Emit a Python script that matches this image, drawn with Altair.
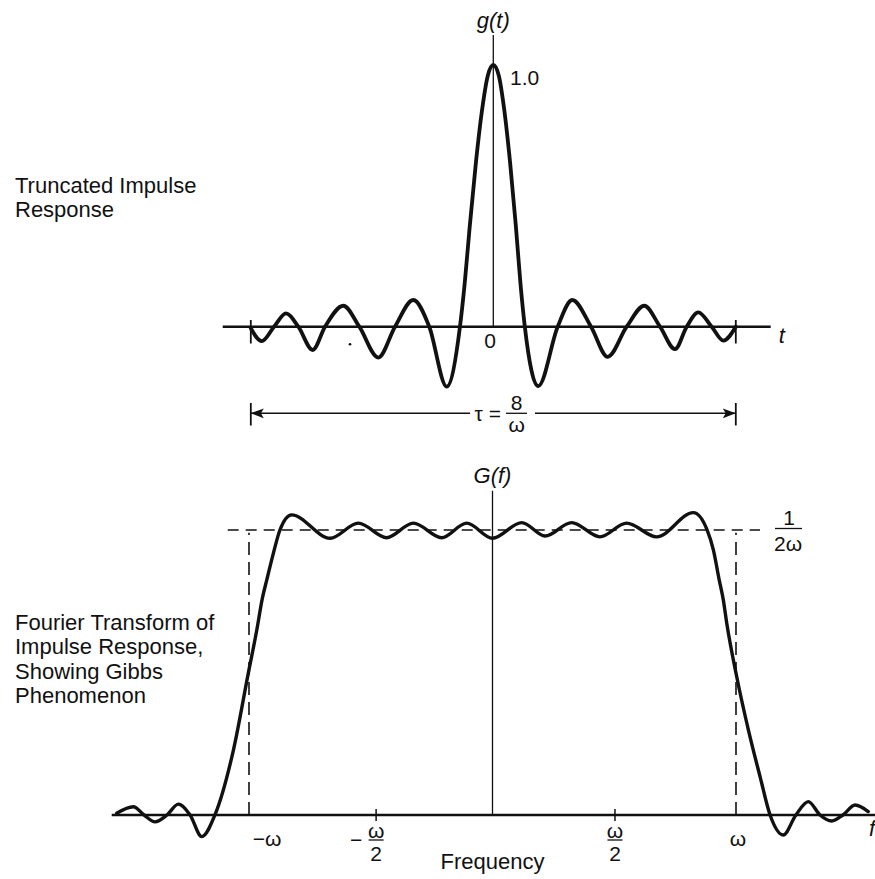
import altair as alt
import pandas as pd

# ---------------- data ----------------
# Truncated impulse response g(t); t in units of 1/omega (tau = 8/omega -> t in [-4, 4])
t_vals = [-4.0, -3.82, -3.617, -3.419, -3.216, -2.979, -2.776, -2.474, -2.21, -1.897,
          -1.621, -1.32, -1.056, -0.769, -0.55, -0.47, -0.39, -0.29, -0.19, -0.09,
          0.0, 0.09, 0.18, 0.28, 0.37, 0.45, 0.52, 0.742, 1.062, 1.303,
          1.612, 1.887, 2.2, 2.491, 2.75, 2.997, 3.19, 3.381, 3.602, 3.794, 4.0]
g_vals = [-0.006, -0.055, 0.0, 0.051, 0.0, -0.089, 0.0, 0.080, 0.0, -0.118,
          0.0, 0.102, 0.0, -0.229, 0.0, 0.17, 0.38, 0.62, 0.82, 0.96,
          1.0, 0.96, 0.83, 0.62, 0.39, 0.16, 0.0, -0.227, 0.0, 0.102,
          0.0, -0.115, 0.0, 0.080, 0.0, -0.086, 0.0, 0.055, 0.0, -0.053, 0.0]

# Fourier transform G(f); f in units of omega, G in units of 1/(2 omega)
f_vals = [-1.543, -1.475, -1.431, -1.386, -1.337, -1.290, -1.242, -1.194, -1.140, -1.064,
          -1.003, -0.968, -0.945, -0.927, -0.900, -0.873, -0.825, -0.667, -0.551, -0.435,
          -0.325, -0.209, -0.106, 0.0, 0.120, 0.216, 0.325, 0.441, 0.551, 0.674,
          0.825, 0.880, 0.907, 0.931, 0.948, 0.962, 1.003, 1.051, 1.099, 1.140,
          1.194, 1.246, 1.297, 1.345, 1.393, 1.439, 1.489, 1.543]
G_vals = [0.006, 0.029, 0.0, -0.024, 0.0, 0.038, 0.0, -0.076, 0.0, 0.228,
          0.497, 0.649, 0.761, 0.825, 0.918, 1.0, 1.053, 0.971, 1.024, 0.973,
          1.024, 0.973, 1.024, 0.971, 1.026, 0.979, 1.026, 0.976, 1.024, 0.976,
          1.061, 1.003, 0.930, 0.825, 0.754, 0.673, 0.485, 0.298, 0.134, 0.0,
          -0.070, 0.0, 0.047, 0.0, -0.021, 0.0, 0.035, 0.012]

freq_tick_pos = [-0.478, 0.503]
top_label = ["Truncated Impulse", "Response"]
bottom_label = ["Fourier Transform of", "Impulse Response,", "Showing Gibbs", "Phenomenon"]

# ---------------- layout (pixels) ----------------
W, H = 875, 879
INK = "#111111"
FONT = "Liberation Sans"

TX0, TPX, TY0, TPY = 493.3, 60.625, 326.7, 261.7   # top panel: t=0 px, px/unit, g=0 px, px/unit
FX0, FPX, FY0, FPY = 492.5, 243.5, 815.0, 285.0     # bottom panel


def tx(px):
    return (px - TX0) / TPX


def ty(py):
    return (TY0 - py) / TPY


def fx(px):
    return (px - FX0) / FPX


def fy(py):
    return (FY0 - py) / FPY


sx_top = alt.Scale(domain=[tx(0), tx(W)], nice=False, zero=False)
sy_top = alt.Scale(domain=[ty(H), ty(0)], nice=False, zero=False)
sx_bot = alt.Scale(domain=[fx(0), fx(W)], nice=False, zero=False)
sy_bot = alt.Scale(domain=[fy(H), fy(0)], nice=False, zero=False)


def enc(sx, sy, x="x", y="y", x2=None, y2=None, **kw):
    e = dict(x=alt.X(x, type="quantitative", scale=sx, axis=None),
             y=alt.Y(y, type="quantitative", scale=sy, axis=None))
    if x2:
        e["x2"] = alt.X2(x2)
    if y2:
        e["y2"] = alt.Y2(y2)
    e.update(kw)
    return e


def rules(df, sx, sy, width, dash=None, **kw):
    props = dict(color=INK, strokeWidth=width)
    if dash:
        props["strokeDash"] = dash
    return alt.Chart(df).mark_rule(**props).encode(**enc(sx, sy, **kw))


def texts(df, sx, sy, size=21, align="center", italic=False):
    props = dict(color=INK, font=FONT, fontSize=size, align=align, baseline="alphabetic")
    if italic:
        props["fontStyle"] = "italic"
    return alt.Chart(df).mark_text(**props).encode(**enc(sx, sy, text="txt:N"))


# ---------------- top panel ----------------
top_curve = pd.DataFrame({"x": t_vals, "y": g_vals})

top_layers = [
    # baseline
    rules(pd.DataFrame({"x": [tx(222.7)], "x2": [tx(770.7)], "y": [0.0]}), sx_top, sy_top, 2.6, x2="x2"),
    # vertical axis
    rules(pd.DataFrame({"x": [0.0], "y": [0.0], "y2": [ty(35)]}), sx_top, sy_top, 1.3, y2="y2"),
    # end ticks at +-tau/2
    rules(pd.DataFrame({"x": [-4.0, 4.0], "y": [ty(320), ty(320)], "y2": [ty(343.5), ty(343.5)]}),
          sx_top, sy_top, 1.8, y2="y2"),
    # curve
    alt.Chart(top_curve).mark_line(color=INK, strokeWidth=3.8, interpolate="monotone",
                                   strokeCap="round", strokeJoin="round")
    .encode(**enc(sx_top, sy_top)),
    # scan speck
    alt.Chart(pd.DataFrame({"x": [tx(350)], "y": [ty(344.3)]}))
    .mark_point(filled=True, color=INK, opacity=1, size=7).encode(**enc(sx_top, sy_top)),
    # dimension line tau
    rules(pd.DataFrame({"x": [-4.0, tx(535)], "x2": [tx(470), 4.0], "y": [ty(413.3)] * 2}),
          sx_top, sy_top, 1.5, x2="x2"),
    rules(pd.DataFrame({"x": [-4.0, 4.0], "y": [ty(403)] * 2, "y2": [ty(425.5)] * 2}),
          sx_top, sy_top, 1.8, y2="y2"),
    alt.Chart(pd.DataFrame({"x": [-4.0 + 6.5 / TPX], "y": [ty(413.3)]}))
    .mark_point(filled=True, color=INK, opacity=1, size=169,
                shape="M -1 0 L 1 -0.75 L 0.55 0 L 1 0.75 Z").encode(**enc(sx_top, sy_top)),
    alt.Chart(pd.DataFrame({"x": [4.0 - 6.5 / TPX], "y": [ty(413.3)]}))
    .mark_point(filled=True, color=INK, opacity=1, size=169,
                shape="M 1 0 L -1 -0.75 L -0.55 0 L -1 0.75 Z").encode(**enc(sx_top, sy_top)),
    # fraction bar of 8/omega
    rules(pd.DataFrame({"x": [tx(506)], "x2": [tx(527)], "y": [ty(413.3)]}), sx_top, sy_top, 1.3, x2="x2"),
    # labels
    texts(pd.DataFrame({"x": [0.0], "y": [ty(28)], "txt": ["g(t)"]}), sx_top, sy_top, 22, italic=True),
    texts(pd.DataFrame({"x": [tx(510)], "y": [ty(85)], "txt": ["1.0"]}), sx_top, sy_top, 21, align="left"),
    texts(pd.DataFrame({"x": [tx(490)], "y": [ty(348)], "txt": ["0"]}), sx_top, sy_top, 21),
    texts(pd.DataFrame({"x": [tx(781.7)], "y": [ty(343)], "txt": ["t"]}), sx_top, sy_top, 22, italic=True),
    texts(pd.DataFrame({"x": [tx(501)], "y": [ty(420.5)], "txt": ["τ ="]}), sx_top, sy_top, 21, align="right"),
    texts(pd.DataFrame({"x": [tx(516.7), tx(516.7)], "y": [ty(410), ty(431.5)], "txt": ["8", "ω"]}),
          sx_top, sy_top, 21),
    texts(pd.DataFrame({"x": [tx(15)] * 2, "y": [ty(193), ty(217)], "txt": top_label}),
          sx_top, sy_top, 22, align="left"),
]
top = alt.layer(*top_layers)

# ---------------- bottom panel ----------------
bot_curve = pd.DataFrame({"x": f_vals, "y": G_vals})

bot_layers = [
    rules(pd.DataFrame({"x": [fx(111.7)], "x2": [fx(880)], "y": [0.0]}), sx_bot, sy_bot, 2.6, x2="x2"),
    rules(pd.DataFrame({"x": [0.0], "y": [0.0], "y2": [fy(490.7)]}), sx_bot, sy_bot, 1.3, y2="y2"),
    rules(pd.DataFrame({"x": [fx(227.7)], "x2": [fx(760)], "y": [1.0]}), sx_bot, sy_bot, 1.6,
          dash=[11, 7], x2="x2"),
    rules(pd.DataFrame({"x": [-1.0, 1.0], "y": [0.0, 0.0], "y2": [0.99, 0.99]}), sx_bot, sy_bot, 1.6,
          dash=[13, 7], y2="y2"),
    rules(pd.DataFrame({"x": freq_tick_pos, "y": [fy(809)] * 2, "y2": [fy(821)] * 2}),
          sx_bot, sy_bot, 1.5, y2="y2"),
    alt.Chart(bot_curve).mark_line(color=INK, strokeWidth=3.4, interpolate="monotone",
                                   strokeCap="round", strokeJoin="round")
    .encode(**enc(sx_bot, sy_bot)),
    # 1/(2 omega) label
    texts(pd.DataFrame({"x": [fx(789), fx(788)], "y": [fy(525), fy(550.5)], "txt": ["1", "2ω"]}),
          sx_bot, sy_bot, 21),
    rules(pd.DataFrame({"x": [fx(775)], "x2": [fx(802)], "y": [fy(528.5)]}), sx_bot, sy_bot, 1.3, x2="x2"),
    # G(f)
    texts(pd.DataFrame({"x": [0.0], "y": [fy(483)], "txt": ["G(f)"]}), sx_bot, sy_bot, 22, italic=True),
    # frequency tick labels
    texts(pd.DataFrame({"x": [fx(267), fx(738)], "y": [fy(846)] * 2, "txt": ["−ω", "ω"]}),
          sx_bot, sy_bot, 21),
    texts(pd.DataFrame({"x": [fx(356)], "y": [fy(846.5)], "txt": ["−"]}), sx_bot, sy_bot, 21),
    texts(pd.DataFrame({"x": [freq_tick_pos[0], freq_tick_pos[1], freq_tick_pos[0], freq_tick_pos[1]],
                        "y": [fy(837.5), fy(837.5), fy(860.5), fy(860.5)],
                        "txt": ["ω", "ω", "2", "2"]}), sx_bot, sy_bot, 21),
    rules(pd.DataFrame({"x": [p - 7.5 / FPX for p in freq_tick_pos],
                        "x2": [p + 7.5 / FPX for p in freq_tick_pos],
                        "y": [fy(840)] * 2}), sx_bot, sy_bot, 1.3, x2="x2"),
    texts(pd.DataFrame({"x": [0.0], "y": [fy(869)], "txt": ["Frequency"]}), sx_bot, sy_bot, 22),
    texts(pd.DataFrame({"x": [fx(869)], "y": [fy(836)], "txt": ["f"]}), sx_bot, sy_bot, 22,
          align="left", italic=True),
    texts(pd.DataFrame({"x": [fx(15)] * 4, "y": [fy(630), fy(654.3), fy(678.6), fy(703)],
                        "txt": bottom_label}), sx_bot, sy_bot, 22, align="left"),
]
bottom = alt.layer(*bot_layers)

chart = (
    alt.layer(top, bottom)
    .resolve_scale(x="independent", y="independent")
    .properties(width=W, height=H, padding=0, autosize=alt.AutoSizeParams(type="none"),
                background="white")
    .configure_view(stroke=None)
)

chart.save("out.html", embed_options={"renderer": "svg", "actions": False})
